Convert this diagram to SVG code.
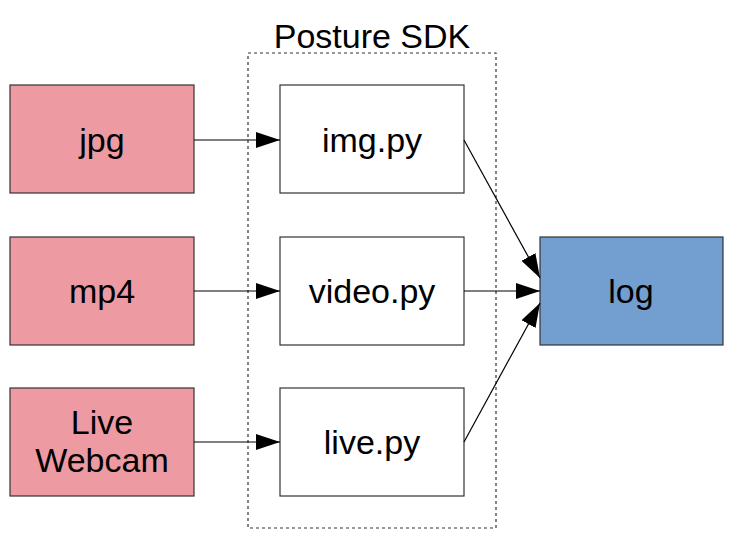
<svg xmlns="http://www.w3.org/2000/svg" width="745" height="558" viewBox="0 0 745 558">
<style>
text{font-family:"Liberation Sans",Arial,sans-serif;font-size:34px;fill:#000;text-anchor:middle}
.src{fill:#ED9AA3;stroke:#333;stroke-width:1.2}
.mod{fill:#fff;stroke:#333;stroke-width:1.2}
.out{fill:#729FCF;stroke:#333;stroke-width:1.2}
.edge{stroke:#000;stroke-width:1.2;fill:none;marker-end:url(#ah)}
</style>
<defs>
<marker id="ah" markerUnits="userSpaceOnUse" markerWidth="25" markerHeight="17" refX="24" refY="8" orient="auto">
<path d="M0,0 L24,8 L0,16 Z" fill="#000"/>
</marker>
</defs>
<rect width="745" height="558" fill="#fff"/>
<g id="container">
<rect x="248" y="53" width="248" height="475" fill="none" stroke="#333" stroke-width="1.2" stroke-dasharray="3,3"/>
<text x="372" y="48">Posture SDK</text>
</g>
<g id="jpg"><rect class="src" x="10" y="85" width="184" height="108"/><text x="102" y="152">jpg</text></g>
<g id="mp4"><rect class="src" x="10" y="237" width="184" height="108"/><text x="102" y="303">mp4</text></g>
<g id="webcam"><rect class="src" x="10" y="388" width="184" height="108"/><text x="102" y="434">Live</text><text x="102" y="472">Webcam</text></g>
<g id="img"><rect class="mod" x="280" y="85" width="184" height="108"/><text x="372" y="152">img.py</text></g>
<g id="video"><rect class="mod" x="280" y="237" width="184" height="108"/><text x="372" y="303">video.py</text></g>
<g id="live"><rect class="mod" x="280" y="388" width="184" height="108"/><text x="372" y="454">live.py</text></g>
<g id="log"><rect class="out" x="540" y="237" width="183" height="108"/><text x="631" y="303">log</text></g>
<g id="connectors">
<line class="edge" x1="194" y1="140" x2="280" y2="140"/>
<line class="edge" x1="194" y1="291" x2="280" y2="291"/>
<line class="edge" x1="194" y1="442" x2="280" y2="442"/>
<line class="edge" x1="464" y1="140" x2="540" y2="278"/>
<line class="edge" x1="464" y1="291" x2="540" y2="291"/>
<line class="edge" x1="464" y1="442" x2="540" y2="303"/>
</g>
</svg>
